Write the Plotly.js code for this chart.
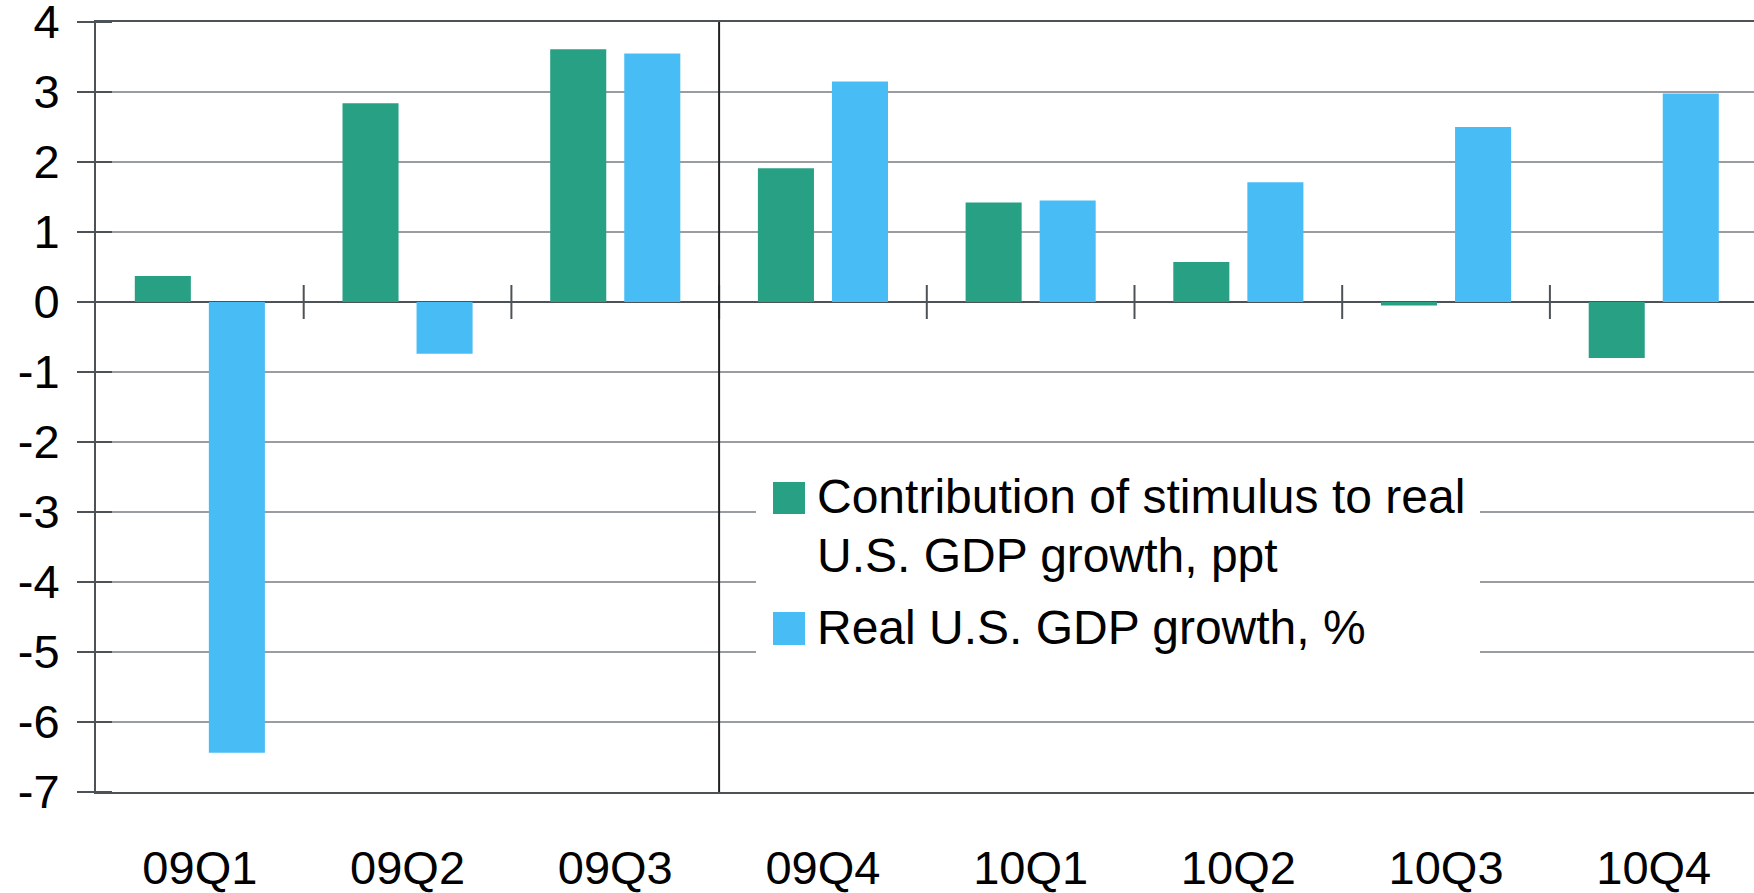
<!DOCTYPE html>
<html>
<head>
<meta charset="utf-8">
<script src="https://cdn.plot.ly/plotly-3.0.1.min.js"></script>
<style>
  html, body { margin: 0; padding: 0; background: #ffffff; }
  #chart { width: 1754px; height: 893px; }
</style>
</head>
<body>
<div id="chart"></div>
<script>
// ---- Data ----
var categories = ['09Q1', '09Q2', '09Q3', '09Q4', '10Q1', '10Q2', '10Q3', '10Q4'];
var stimulusContribution = [0.37, 2.84, 3.61, 1.91, 1.42, 0.57, -0.05, -0.80];
var realGdpGrowth = [-6.44, -0.74, 3.55, 3.15, 1.45, 1.71, 2.50, 2.98];
var seriesNames = ['Contribution of stimulus to real U.S. GDP growth, ppt', 'Real U.S. GDP growth, %'];
var legendLines = [['Contribution of stimulus to real', 'U.S. GDP growth, ppt'], ['Real U.S. GDP growth, %']];
var yTickVals = [4, 3, 2, 1, 0, -1, -2, -3, -4, -5, -6, -7];
var yTickText = ['4', '3', '2', '1', '0', '-1', '-2', '-3', '-4', '-5', '-6', '-7'];

// ---- Styling ----
var GREEN = '#28A084';
var BLUE = '#48BDF5';
var DARK = '#4D5257';
var GRID = '#999DA2';
var FONT = 'Liberation Sans, Arial, Helvetica, sans-serif';

var W = 1754, H = 893;
var mL = 96, mR = 0, mT = 22, mB = 101;
var plotW = W - mL - mR, plotH = H - mT - mB;
var catPx = 207.7;
var xMax = -0.5 + plotW / catPx;

var traces = [
  { type: 'bar', name: seriesNames[0], x: categories, y: stimulusContribution,
    marker: { color: GREEN }, showlegend: false, hoverinfo: 'x+y' },
  { type: 'bar', name: seriesNames[1], x: categories, y: realGdpGrowth,
    marker: { color: BLUE }, showlegend: false, hoverinfo: 'x+y' }
];

var shapes = [];
// inner half of the crossing y ticks
yTickVals.forEach(function (v) {
  shapes.push({ type: 'line', xref: 'paper', yref: 'y', x0: 0, x1: 16 / plotW, y0: v, y1: v,
    line: { color: DARK, width: 2 }, layer: 'above' });
});
// crossing ticks on the zero line between categories
var halfTick = 17 / (plotH / 11);
for (var i = 0; i < categories.length - 1; i++) {
  shapes.push({ type: 'line', xref: 'x', yref: 'y', x0: i + 0.5, x1: i + 0.5, y0: -halfTick, y1: halfTick,
    line: { color: DARK, width: 2 }, layer: 'above' });
}
// vertical separator between 09Q3 and 09Q4
shapes.push({ type: 'line', xref: 'x', yref: 'paper', x0: 2.5, x1: 2.5, y0: 0, y1: 1,
  line: { color: '#222222', width: 2 }, layer: 'above' });

// legend box (custom, to match large symbols)
function px2x(p) { return (p - mL) / plotW; }
function py2y(p) { return (mT + plotH - p) / plotH; }
shapes.push({ type: 'rect', xref: 'paper', yref: 'paper', x0: px2x(756), x1: px2x(1480), y0: py2y(700), y1: py2y(458),
  fillcolor: '#ffffff', line: { width: 0 }, layer: 'above' });
shapes.push({ type: 'rect', xref: 'paper', yref: 'paper', x0: px2x(773), x1: px2x(805), y0: py2y(514), y1: py2y(482),
  fillcolor: GREEN, line: { width: 0 }, layer: 'above' });
shapes.push({ type: 'rect', xref: 'paper', yref: 'paper', x0: px2x(773), x1: px2x(805), y0: py2y(645), y1: py2y(612),
  fillcolor: BLUE, line: { width: 0 }, layer: 'above' });

var annotations = [];
var lineCenters = [[497, 555], [627]];
legendLines.forEach(function (lines, s) {
  lines.forEach(function (t, j) {
    annotations.push({ xref: 'paper', yref: 'paper', x: px2x(815), y: py2y(lineCenters[s][j]),
      xanchor: 'left', yanchor: 'middle', text: t, showarrow: false,
      font: { family: FONT, size: 48, color: '#000000' } });
  });
});

var layout = {
  width: W, height: H, autosize: false,
  margin: { l: mL, r: mR, t: mT, b: mB, pad: 0 },
  paper_bgcolor: '#ffffff', plot_bgcolor: '#ffffff',
  font: { family: FONT, size: 47, color: '#000000' },
  barmode: 'group', bargap: 0.287, bargroupgap: 0.243,
  showlegend: false,
  xaxis: {
    type: 'category', range: [-0.5, xMax], fixedrange: true,
    showgrid: false, zeroline: false,
    showline: true, mirror: true, linecolor: DARK, linewidth: 2,
    ticks: '', ticklabelstandoff: 34, ticklabeloverflow: 'allow',
    tickfont: { family: FONT, size: 47, color: '#000000' }
  },
  yaxis: {
    range: [-7, 4], fixedrange: true,
    tickmode: 'array', tickvals: yTickVals, ticktext: yTickText,
    showgrid: true, gridcolor: GRID, gridwidth: 1.5,
    zeroline: true, zerolinecolor: DARK, zerolinewidth: 2.5,
    showline: true, linecolor: DARK, linewidth: 2,
    ticks: 'outside', ticklen: 17, tickwidth: 2, tickcolor: DARK,
    ticklabelstandoff: 8, ticklabeloverflow: 'allow',
    tickfont: { family: FONT, size: 47, color: '#000000' }
  },
  shapes: shapes,
  annotations: annotations
};

Plotly.newPlot('chart', traces, layout, { staticPlot: true, displayModeBar: false });
</script>
</body>
</html>
